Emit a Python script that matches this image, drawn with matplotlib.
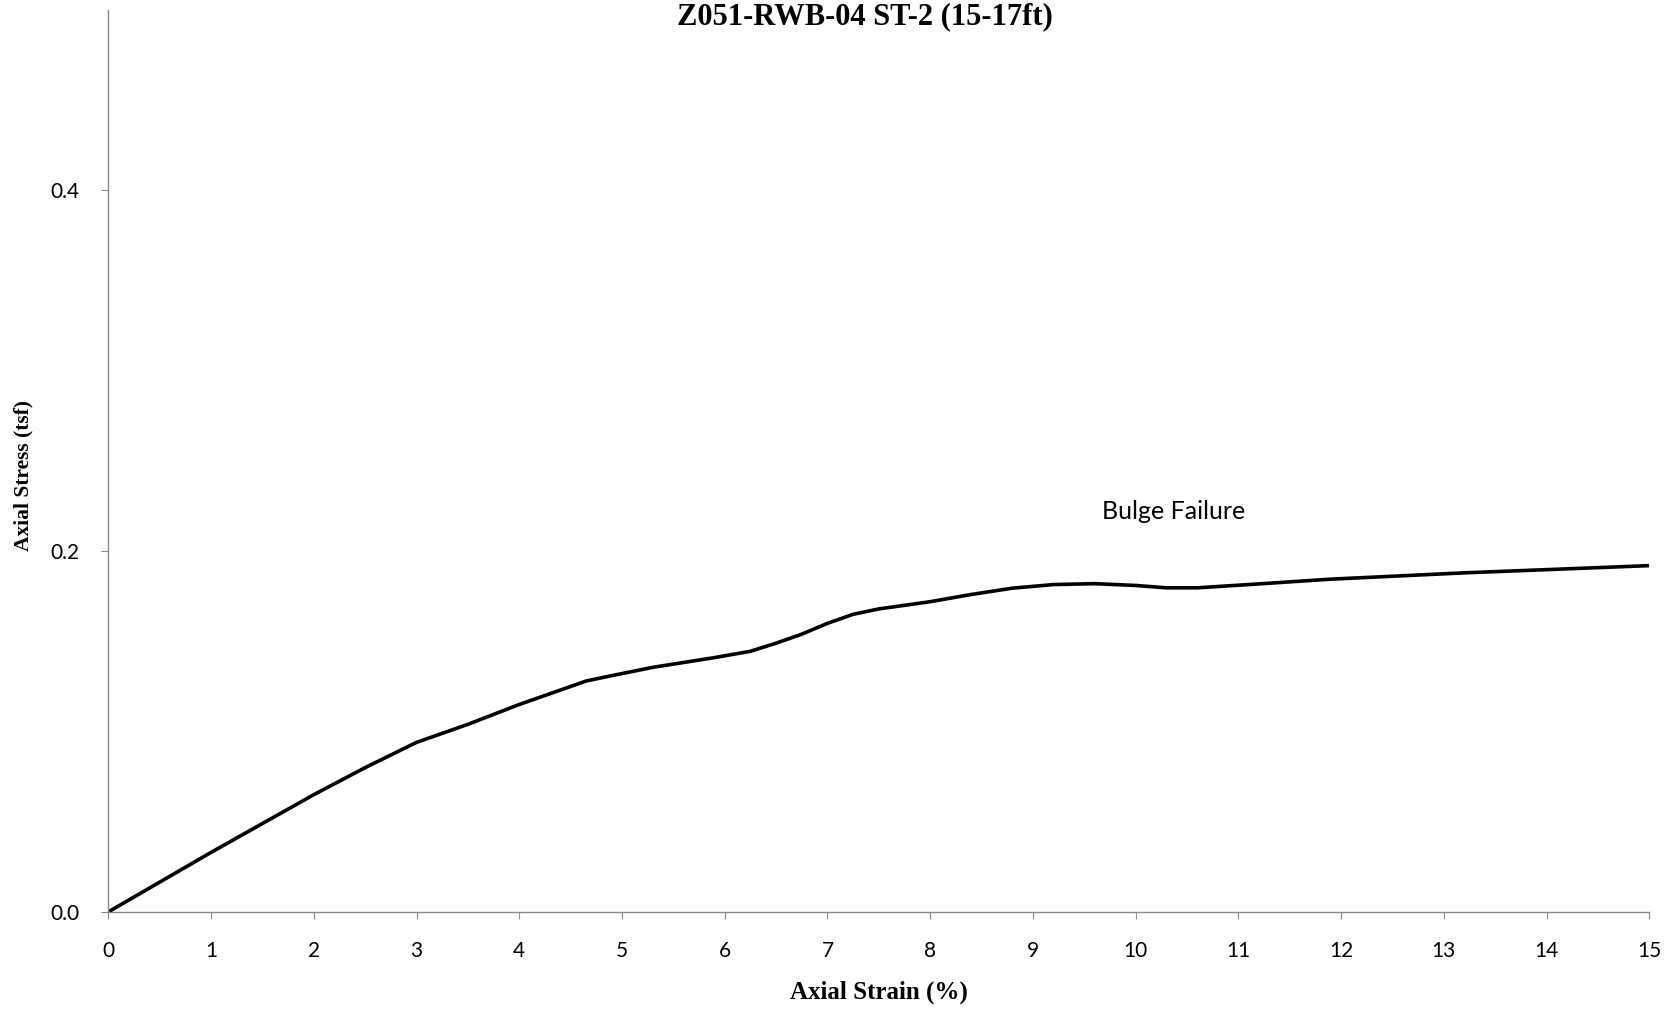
#!/usr/bin/env python3
"""Unconfined compression curve - Z051-RWB-04 ST-2 (15-17ft)"""
import matplotlib.pyplot as plt

# values
strain = [0, 1, 2, 2.5, 2.75, 3.0, 3.2, 3.5, 4.0, 4.4, 4.65, 4.9, 5.3, 5.9,
          6.25, 6.5, 6.75, 7.0, 7.25, 7.5, 8.0, 8.4, 8.8, 9.2, 9.6, 10.0,
          10.3, 10.6, 11.1, 11.9, 13.2, 15.0]
stress = [0, 0.033, 0.065, 0.080, 0.087, 0.094, 0.098, 0.104, 0.115, 0.123,
          0.128, 0.131, 0.1356, 0.141, 0.1445, 0.149, 0.154, 0.160, 0.165,
          0.168, 0.172, 0.176, 0.1795, 0.1815, 0.182, 0.181, 0.1797, 0.1797,
          0.1815, 0.1845, 0.188, 0.192]
x_ticks = list(range(0, 16))
y_ticks = [0.0, 0.2, 0.4]

TITLE = 'Z051-RWB-04 ST-2 (15-17ft)'
NOTE = 'Bulge Failure'
SERIF = ['Liberation Serif', 'DejaVu Serif']
SANS = ['Lato', 'DejaVu Sans']
AXIS = '#8a8a8a'

fig = plt.figure(figsize=(16.66, 10.11), dpi=100)
ax = fig.add_axes([0.065, 0.098, 0.925, 0.892])

ax.plot(strain, stress, color='black', lw=2.6,
        solid_capstyle='round', solid_joinstyle='round')

ax.set_xlim(0, 15)
ax.set_ylim(0, 0.5)
ax.set_xticks(x_ticks)
ax.set_yticks(y_ticks)
ax.set_xticklabels([str(t) for t in x_ticks], family=SANS, fontsize=15)
ax.set_yticklabels([f'{t:.1f}' for t in y_ticks], family=SANS, fontsize=15)
ax.tick_params(axis='x', direction='out', length=5, color=AXIS, pad=16)
ax.tick_params(axis='y', direction='out', length=5, color=AXIS, pad=16)

for side in ('top', 'right'):
    ax.spines[side].set_visible(False)
for side in ('left', 'bottom'):
    ax.spines[side].set_color(AXIS)
    ax.spines[side].set_linewidth(1.0)

ax.set_xlabel('Axial Strain (%)', family=SERIF, fontsize=18, fontweight='bold', labelpad=14)
ax.set_ylabel('Axial Stress (tsf)', family=SERIF, fontsize=15.5, fontweight='bold', labelpad=12)
ax.yaxis.label.set_y(0.484)

fig.text(865 / 1666, 1 - 24 / 1011, TITLE, family=SERIF, fontsize=22,
         fontweight='bold', ha='center', va='baseline')
ax.text(10.37, 0.218, NOTE, family=SANS, fontsize=18, ha='center', va='baseline')

fig.savefig('out.png', dpi=100, facecolor='white')
